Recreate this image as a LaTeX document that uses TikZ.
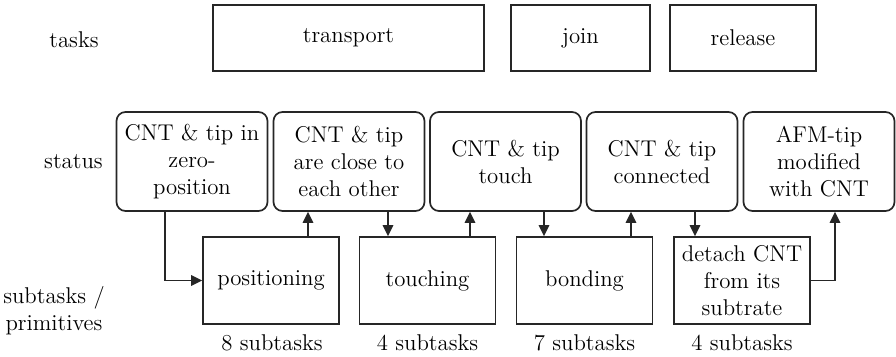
\documentclass[tikz,border=0pt]{standalone}
\usetikzlibrary{arrows.meta}
\begin{document}
\begin{tikzpicture}[x=0.5pt,y=-0.5pt,line width=0.85pt,draw=black!85,
  txt/.style={font=\fontsize{11.4}{13.5}\selectfont,align=center,inner sep=0pt},
  taskbox/.style={txt,draw,minimum height=33pt},
  statbox/.style={txt,draw,rounded corners=4.5pt,minimum width=75.5pt,minimum height=49.5pt},
  subbox/.style={txt,draw,minimum width=68pt,minimum height=43.5pt},
  arr/.style={-{Triangle[length=5.5pt,width=5.2pt]}}]
\useasboundingbox (0,0) rectangle (896,357);
% row labels
\node[txt] (ltask) at (74,40) {tasks};
\node[txt] (lstat) at (73.5,162) {status};
\node[txt] (lsub) at (54,311) {subtasks /\\primitives};
% tasks
\node[taskbox,minimum width=135.5pt] (transport) at (348.5,38) {transport};
\node[taskbox,minimum width=69.5pt] (join) at (580.5,38) {join};
\node[taskbox,minimum width=73pt] (release) at (743,38) {release};
% status
\node[statbox] (s1) at (192,161.5) {CNT \& tip in\\zero-\\position};
\node[statbox] (s2) at (349,161.5) {CNT \& tip\\are close to\\each other};
\node[statbox] (s3) at (505.5,161.5) {CNT \& tip\\touch};
\node[statbox] (s4) at (662,161.5) {CNT \& tip\\connected};
\node[statbox] (s5) at (819,161.5) {AFM-tip\\modified\\with CNT};
% subtasks
\node[subbox] (pos) at (271,280.5) {positioning};
\node[subbox] (tou) at (427.5,280.5) {touching};
\node[subbox] (bon) at (584.5,280.5) {bonding};
\node[subbox] (det) at (742,280.5) {detach CNT\\from its\\subtrate};
% counts
\node[txt] (c1) at (272,343) {8 subtasks};
\node[txt] (c2) at (427.5,343) {4 subtasks};
\node[txt] (c3) at (584.5,343) {7 subtasks};
\node[txt] (c4) at (742,343) {4 subtasks};
% connectors
\draw[arr] (s1.south -| 165,0) |- (pos.west);
\draw[arr] (pos.north -| 308,0) -- (s2.south -| 308,0);
\draw[arr] (s2.south -| 388,0) -- (tou.north -| 388,0);
\draw[arr] (tou.north -| 470,0) -- (s3.south -| 470,0);
\draw[arr] (s3.south -| 544,0) -- (bon.north -| 544,0);
\draw[arr] (bon.north -| 631,0) -- (s4.south -| 631,0);
\draw[arr] (s4.south -| 695,0) -- (det.north -| 695,0);
\draw[arr] (det.east) -| (s5.south -| 835,0);
\end{tikzpicture}
\end{document}
